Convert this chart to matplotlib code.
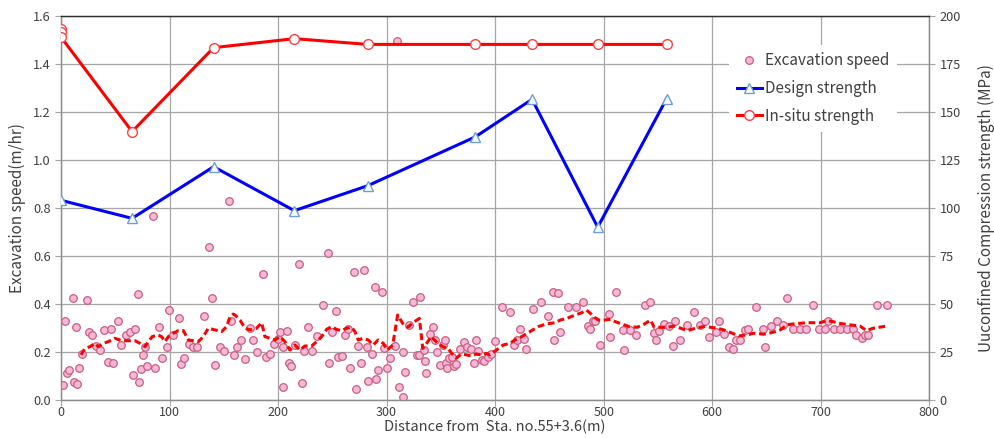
import matplotlib
matplotlib.use("Agg")
import matplotlib.pyplot as plt
from matplotlib.lines import Line2D

plt.rcParams["font.family"] = ["Noto Sans CJK JP", "DejaVu Sans"]

# excavation speed (m/hr) vs distance (m)
speed_x = [1.5, 4, 5.5, 7.7, 11, 11.7, 13.5, 15, 16.6, 19.4, 23.7, 26, 28.9, 32, 35.6, 40, 43.3,
           46.4, 48, 52.8, 55.6, 59.6, 63.6, 66, 68.5, 70.7, 71.6, 73.7, 75.3, 77.7, 79.6, 84.4,
           86.6, 90.3, 93.4, 97.4, 99.5, 103.5, 108.4, 110.9, 113.7, 118, 122, 125.7, 132, 136,
           139, 142, 146.5, 149.9, 154.7, 157, 159.8, 162, 165.6, 169.3, 174.2, 177.3, 181,
           185.9, 188.6, 192.6, 196.6, 199.7, 201.8, 204.6, 204.6, 208.3, 210.1, 212.3, 216,
           219.7, 221.8, 224.3, 227.6, 231.3, 236.3, 241.8, 245.8,
           247, 250, 253.7, 255.6, 258.6, 261.4, 264.8, 266, 270, 271.6, 274, 276.5, 279.3,
           281.5, 283.3, 286.4, 289.2, 290.1, 292.3, 295.4, 297.2, 300, 303.4, 307.7, 310,
           311.7, 314.8, 315.4, 317, 321, 324, 327.8, 330.2, 330.9, 334.3, 335.8, 336.4, 340.1,
           342.6, 345, 346.6, 348.8, 351.9, 353.7, 354.6, 355.9, 357.4, 359.9, 362.3, 364.2,
           367.3, 371.3, 374.4, 378.1, 380.2, 382.1, 384.3, 387.7, 389.8, 393.2, 396, 400.3,
           406.5, 413.9, 417.6, 419.8, 423.3, 426.9, 428.7, 435.2, 442.3, 448.8, 453.4, 454,
           457.7, 459.9, 467, 474.4, 480.9, 485.5, 487.7, 490.1, 492.3, 496.9, 504.6, 505.6,
           511.7,
           517.4, 519, 524.5, 530, 537.9, 542.8, 546.2, 548.3, 550.5, 556, 560.6, 563.9, 566,
           570.3, 576.5, 583.2, 588.7, 593.6, 597.2, 603.4, 605.8, 610.7, 615.3, 618.7, 622,
           625.7, 630.3, 633.3, 640.4, 646.8, 648.3, 653.8, 659.3, 664.8, 668.8, 674, 680.4,
           686.5, 692.4, 698.5, 704, 706.4, 712.5, 718, 724.2, 730, 732.7, 738.2, 740.7, 743.7,
           751.4, 760.6]
speed_y = [0.064, 0.331, 0.113, 0.126, 0.425, 0.074, 0.306, 0.067, 0.132, 0.192, 0.418, 0.283,
           0.269, 0.224, 0.207, 0.290, 0.160, 0.297, 0.153, 0.331, 0.228, 0.272, 0.283, 0.106,
           0.297, 0.443, 0.074, 0.131, 0.188, 0.219, 0.142, 0.767, 0.132, 0.306, 0.174, 0.219,
           0.375, 0.272, 0.340, 0.151, 0.174, 0.233, 0.219, 0.219, 0.351, 0.639, 0.425, 0.144,
           0.219, 0.203, 0.83, 0.331, 0.188, 0.219, 0.249, 0.169, 0.299, 0.249, 0.199, 0.525,
           0.181, 0.192, 0.235, 0.253, 0.283, 0.053, 0.219, 0.288, 0.153, 0.142, 0.228, 0.568,
           0.071, 0.206, 0.303, 0.203, 0.265, 0.397, 0.614,
           0.153, 0.285, 0.372, 0.181, 0.185, 0.269, 0.297, 0.132, 0.532, 0.047, 0.226, 0.153,
           0.542, 0.219, 0.078, 0.190, 0.472, 0.088, 0.124, 0.450, 0.215, 0.135, 0.174, 0.226,
           1.497, 0.053, 0.011, 0.199, 0.117, 0.313, 0.408, 0.188, 0.189, 0.429, 0.208, 0.164,
           0.113, 0.274, 0.306, 0.250, 0.199, 0.144, 0.229, 0.250, 0.153, 0.132, 0.174, 0.181,
           0.142, 0.150, 0.213, 0.242, 0.219, 0.214, 0.153, 0.250, 0.206, 0.167, 0.163, 0.179,
           0.192, 0.244, 0.386, 0.367, 0.229, 0.250, 0.297, 0.256, 0.214, 0.379, 0.408, 0.351,
           0.450, 0.249, 0.444, 0.283, 0.386, 0.386, 0.408, 0.308, 0.297, 0.329, 0.331, 0.231,
           0.358, 0.263, 0.450,
           0.292, 0.207, 0.292, 0.269, 0.397, 0.408, 0.281, 0.249, 0.288, 0.315, 0.308, 0.226,
           0.331, 0.249, 0.311, 0.365, 0.311, 0.331, 0.263, 0.283, 0.331, 0.276, 0.222, 0.213,
           0.249, 0.249, 0.292, 0.297, 0.386, 0.297, 0.219, 0.308, 0.331, 0.313, 0.425, 0.297,
           0.297, 0.297, 0.397, 0.297, 0.297, 0.331, 0.297, 0.297, 0.297, 0.297, 0.269, 0.258,
           0.269, 0.269, 0.397, 0.397]

# running average of the speed (dashed red)
avg_x = [18.4, 22.1, 26.7, 31.3, 34.4, 39, 43.6, 49.7, 55.9, 62, 68.2, 72.8, 77.4, 80.4, 84.1,
         89.1, 92.7, 95.8, 98.9, 103.5, 108.1, 112.7, 117.3, 121.9, 126.5, 131.1, 135.7, 141.8,
         148, 152.6, 155.7, 158.7, 160.3, 164.9, 169.5, 174.1, 180.2, 184.9, 187.9, 192.5,
         197.1, 201.7, 206.3, 210.9, 215.5, 220.1, 224.7, 230.9, 235.5, 240.1, 244.7, 249.3,
         253.9, 258.5, 263.1, 267.7, 270.8, 273.8, 278.4, 283, 287.6, 292.2, 296.9, 300.6,
         305.6, 310.2, 314.8, 319.4, 325.6, 330.2, 333.3, 338, 341, 344.1, 347.2, 351.9, 356.5,
         361.1, 364.2, 368.8, 373.5, 378.1, 382.7, 387.3, 392, 395.1, 401.2, 407.4, 413.6,
         418.2, 424.4, 432.1, 439.8, 447.5, 455.2, 459.9, 466, 473.8, 479.9, 484, 487.7, 491.4,
         495.4, 500, 506.2, 510.8, 515.4, 523.1, 530.9, 537, 543.2, 546.5, 551.1, 558.7, 564.8,
         570.9, 577.1, 584.7, 592.4, 598.5, 604.6, 610.7, 616.8, 624.5, 632.1, 638.2, 647.4,
         655, 662.7, 668.8, 674.9, 687.2, 699.4, 705.5, 711.6, 717.7, 726.9, 736.1, 742.2,
         748.3, 760.6]
avg_y = [0.188, 0.215, 0.222, 0.236, 0.222, 0.236, 0.243, 0.257, 0.247, 0.247, 0.247, 0.236,
         0.222, 0.243, 0.264, 0.271, 0.264, 0.243, 0.264, 0.278, 0.289, 0.289, 0.25, 0.247,
         0.243, 0.264, 0.299, 0.292, 0.285, 0.306, 0.347, 0.358, 0.354, 0.333, 0.299, 0.292,
         0.299, 0.322, 0.264, 0.257, 0.25, 0.264, 0.243, 0.208, 0.229, 0.208, 0.225, 0.225,
         0.243, 0.264, 0.294, 0.306, 0.294, 0.289, 0.299, 0.303, 0.285, 0.25, 0.257, 0.25,
         0.229, 0.25, 0.236, 0.208, 0.229, 0.354, 0.319, 0.303, 0.326, 0.340, 0.215, 0.243,
         0.264, 0.25, 0.236, 0.222, 0.215, 0.188, 0.174, 0.192, 0.188, 0.183, 0.192, 0.188,
         0.194, 0.188, 0.208, 0.229, 0.236, 0.25, 0.264, 0.285, 0.306, 0.317, 0.322, 0.333,
         0.340, 0.354, 0.364, 0.375, 0.361, 0.344, 0.333, 0.333, 0.336, 0.326, 0.319, 0.306,
         0.303, 0.315, 0.333, 0.303, 0.303, 0.303, 0.308, 0.299, 0.289, 0.299, 0.306, 0.303,
         0.299, 0.292, 0.281, 0.267, 0.271, 0.278, 0.274, 0.281, 0.292, 0.313, 0.317, 0.322,
         0.322, 0.331, 0.326, 0.319, 0.313, 0.308, 0.289, 0.299, 0.308]

# strength tests (MPa)
insitu_x = [0, 0, 0, 65.5, 140.6, 215, 282.6, 381.6, 434, 494.5, 558]
insitu = [193, 191.5, 189, 139.8, 183.5, 188.2, 185.2, 185.2, 185.2, 185.2, 185.2]
design_x = [0, 65.5, 140.6, 215, 282.6, 381.6, 434, 494.5, 558]
design = [104, 94.6, 121.5, 98.6, 111.6, 137, 156.6, 90, 157]

TXT = "#404040"
GRID = "#a6a6a6"

fig = plt.figure(figsize=(9.95, 4.38), dpi=100)
ax = fig.add_axes([0.0613, 0.0868, 0.8727, 0.8767])
ax2 = ax.twinx()

ax.scatter(speed_x, speed_y, s=30, facecolor="#f9b8d9", edgecolor="#c8607f",
           linewidth=0.9, zorder=3)
ax.plot(avg_x, avg_y, color="#ff0000", lw=2.2, dashes=(2.2, 1.2), zorder=4)

ax2.plot(design_x, design, color="#0000ff", lw=2.2, marker="^", ms=7,
         mfc="white", mec="#6a9fd8", mew=1.0, zorder=5)
ax2.plot(insitu_x, insitu, color="#ff0000", lw=2.2, marker="o", ms=7,
         mfc="white", mec="#ff4040", mew=1.0, zorder=5)

ax.set_xlim(0, 800)
ax.set_ylim(0, 1.6)
ax2.set_ylim(0, 200)
ax.set_xticks(range(0, 801, 100))
ax.set_yticks([i * 0.2 for i in range(9)])
ax.set_yticklabels([f"{i * 0.2:.1f}" for i in range(9)])
ax2.set_yticks(range(0, 201, 25))

ax.grid(True, color=GRID, lw=0.9)
ax.set_axisbelow(True)
for a in (ax, ax2):
    a.tick_params(colors=GRID, labelcolor=TXT, labelsize=9.2, length=4, width=0.8)
    for s in a.spines.values():
        s.set_color("#8c8c8c")
        s.set_linewidth(0.9)
    a.spines["top"].set_color("#303030")
ax.tick_params(axis="x", pad=0.5, labelsize=9)

ax.set_xlabel("Distance from  Sta. no.55+3.6(m)", fontsize=10.5, color=TXT, labelpad=0)
ax.set_ylabel("Excavation speed(m/hr)", fontsize=11, color=TXT, labelpad=5)
ax2.set_ylabel("Uuconfined Compression strength (MPa)", fontsize=11, color=TXT, labelpad=12)

handles = [
    Line2D([], [], ls="none", marker="o", ms=5.5, mfc="#f9b8d9", mec="#c8607f", mew=0.9),
    Line2D([], [], color="#0000ff", lw=2.2, marker="^", ms=7, mfc="white", mec="#6a9fd8"),
    Line2D([], [], color="#ff0000", lw=2.2, marker="o", ms=7, mfc="white", mec="#ff4040"),
]
leg = ax2.legend(handles, ["Excavation speed", "Design strength", "In-situ strength"],
                 loc="upper left", bbox_to_anchor=(0.761, 0.945), fontsize=11,
                 frameon=True, facecolor="white", edgecolor="none", framealpha=1,
                 fancybox=False, handlelength=1.6, handletextpad=0.2, labelspacing=0.7,
                 borderpad=0.5, labelcolor=TXT)
leg.set_zorder(10)

fig.savefig("out.png", dpi=100)
